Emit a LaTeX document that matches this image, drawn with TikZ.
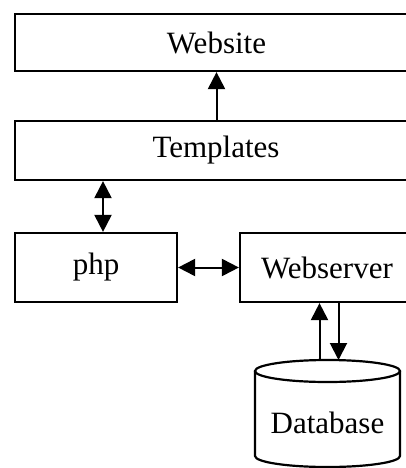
\documentclass[tikz,border=0pt]{standalone}
\usepackage{fontspec}
\setmainfont{Liberation Serif}
\usetikzlibrary{arrows.meta}
\begin{document}
\begin{tikzpicture}[x=1pt,y=-1pt,
  box/.style={draw, line width=2.2pt, inner sep=0pt, font=\fontsize{31}{36}\selectfont},
  conn/.style={line width=2pt, -{Triangle[length=17pt,width=17pt]}},
  dconn/.style={line width=2pt, {Triangle[length=17pt,width=17pt]}-{Triangle[length=17pt,width=17pt]}},
  lbl/.style={inner sep=0pt, font=\fontsize{31}{36}\selectfont}]
\useasboundingbox (0,0) rectangle (406,468);
\node[box, minimum width=403pt, minimum height=57pt] (web) at (216.5,42.5) {Website};
\node[box, minimum width=402pt, minimum height=59pt] (tpl) at (216,150.5) {Templates};
\node[box, minimum width=162pt, minimum height=69pt] (php) at (96,267.5) {php};
\node[box, minimum width=174pt, minimum height=69pt] (ws) at (327,267.5) {Webserver};
% database cylinder
\draw[line width=2.2pt] (327.5,371) ellipse [x radius=72.5, y radius=11];
\draw[line width=2.2pt] (255,371) -- (255,456) arc[start angle=180, end angle=0, x radius=72.5, y radius=11] -- (400,371);
\node[lbl] (db) at (327.5,423) {Database};
\coordinate (dbtop) at (327.5,360);
\coordinate (t1) at ([xshift=-113pt]tpl.south);
% connectors
\draw[conn] (tpl.north -| web.south) -- (web.south);
\draw[dconn] (t1) -- (t1 |- php.north);
\draw[dconn] (php.east) -- (ws.west);
\draw[conn] ([xshift=-8pt]dbtop) -- ([xshift=-8pt]dbtop |- ws.south);
\draw[conn] ([xshift=11pt]dbtop |- ws.south) -- ([xshift=11pt]dbtop);
\end{tikzpicture}
\end{document}
